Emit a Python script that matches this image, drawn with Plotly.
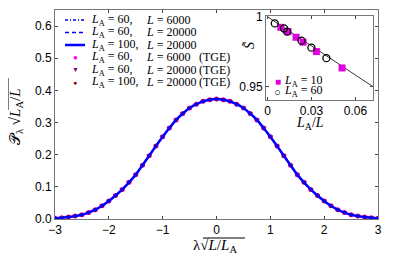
import plotly.graph_objects as go

# main curve
lam = [-3.0, -2.875, -2.75, -2.625, -2.5, -2.375, -2.25, -2.125, -2.0, -1.875, -1.75, -1.625,
       -1.5, -1.375, -1.25, -1.125, -1.0, -0.875, -0.75, -0.625, -0.5, -0.375, -0.25, -0.125,
       0.0, 0.125, 0.25, 0.375, 0.5, 0.625, 0.75, 0.875, 1.0, 1.125, 1.25, 1.375, 1.5, 1.625,
       1.75, 1.875, 2.0, 2.125, 2.25, 2.375, 2.5, 2.625, 2.75, 2.875, 3.0]
P = [0.002, 0.004, 0.006, 0.009, 0.013, 0.020, 0.029, 0.041, 0.056, 0.073, 0.092, 0.114,
     0.138, 0.167, 0.197, 0.227, 0.256, 0.283, 0.308, 0.328, 0.345, 0.357, 0.366, 0.371,
     0.373, 0.371, 0.366, 0.357, 0.345, 0.328, 0.308, 0.283, 0.256, 0.227, 0.197, 0.167,
     0.138, 0.114, 0.092, 0.073, 0.056, 0.041, 0.029, 0.020, 0.013, 0.009, 0.006, 0.004, 0.002]

# inset data
x_LA10 = [0.0091, 0.0140, 0.0195, 0.0243, 0.0334, 0.0509]
S_LA10 = [0.9924, 0.9893, 0.9853, 0.9818, 0.9751, 0.9634]
x_LA60 = [0.0050, 0.0113, 0.0134, 0.0232, 0.0300, 0.0402]
S_LA60 = [0.9952, 0.9916, 0.9893, 0.9829, 0.9779, 0.9704]
fit_x = [0.0, 0.072]
fit_S = [1.0, 0.95]

legend_LA = ["60,", "60,", "100,", "60,", "60,", "100,"]
legend_L = ["6000", "20000", "20000", "6000", "20000", "20000"]
legend_tge = ["", "", "", "(TGE)", "(TGE)", "(TGE)"]

serif = "Liberation Serif"
sans = "Liberation Sans"

# the page puts the figure 8px from the top-left corner
OFF = 8
W, H = 395 - OFF, 257 - OFF
ML, MR, MT, MB = 55 - OFF, 17, 10 - OFF, 38
PW, PH = W - ML - MR, H - MT - MB

def px(x):  # page pixel -> paper
    return (x - OFF - ML) / PW

def py(y):
    return (H - MB - (y - OFF)) / PH

fig = go.Figure()
# markers
mk = [dict(symbol="circle", size=5, color="#ff00ff"),
      dict(symbol="triangle-down", size=5, color="#800080"),
      dict(symbol="circle", size=4, color="#a00000")]
for m in mk:
    fig.add_trace(go.Scatter(x=lam, y=P, mode="markers", marker=m, showlegend=False))
# lines
ln = [dict(color="blue", width=1.5, dash="3px,2px,1px,2px"),
      dict(color="blue", width=1.5, dash="4px,3px"),
      dict(color="blue", width=2.5)]
for l in ln:
    fig.add_trace(go.Scatter(x=lam, y=P, mode="lines", line_shape="spline", line=l, showlegend=False))

# inset
fig.add_trace(go.Scatter(x=fit_x, y=fit_S, mode="lines", xaxis="x2", yaxis="y2",
                         line=dict(color="black", width=0.8), showlegend=False))
fig.add_trace(go.Scatter(x=x_LA10, y=S_LA10, mode="markers", xaxis="x2", yaxis="y2",
                         marker=dict(symbol="square", size=7, color="#e000e0"), showlegend=False))
fig.add_trace(go.Scatter(x=x_LA60, y=S_LA60, mode="markers", xaxis="x2", yaxis="y2",
                         marker=dict(symbol="circle-open", size=7, color="black", line=dict(width=1.3)),
                         showlegend=False))

axcol = "#777"
tf = dict(family=sans, size=12, color="black")
common = dict(ticks="inside", ticklen=3, showline=True, linecolor=axcol, mirror="ticks",
              showgrid=False, zeroline=False, tickfont=tf, automargin=False)
fig.update_layout(
    width=W, height=H,
    margin=dict(l=ML, r=MR, t=MT, b=MB),
    plot_bgcolor="white", paper_bgcolor="white",
    showlegend=False,
    xaxis=dict(range=[-3, 3], tickvals=[-3, -2, -1, 0, 1, 2, 3],
               ticktext=["−3", "−2", "−1", "0", "1", "2", "3"], **common),
    yaxis=dict(range=[0, 0.65], tickvals=[0, 0.1, 0.2, 0.3, 0.4, 0.5, 0.6],
               ticktext=["0.0", "0.1", "0.2", "0.3", "0.4", "0.5", "0.6"], **common),
    xaxis2=dict(domain=[px(266), px(373)], anchor="y2", range=[-0.001, 0.072],
                tickvals=[0, 0.03, 0.06], ticktext=["0", "0.03", "0.06"], **common),
    yaxis2=dict(domain=[py(100), py(16)], anchor="x2", range=[0.9405, 1.0005],
                tickvals=[0.95, 1.0], ticktext=["0.95", "1"], **common),
)

shapes = []
ann = []
lf = dict(family=serif, size=12, color="black")
rows = [20, 32.5, 45, 57, 69.5, 82]
# legend line samples
for i in range(3):
    shapes.append(dict(type="line", xref="paper", yref="paper", x0=px(65), x1=px(85),
                       y0=py(rows[i]), y1=py(rows[i]), line=ln[i]))
glyphs = [("●", "#ff00ff", 8), ("▼", "#800080", 7), ("●", "#a00000", 7)]
for i in range(3):
    g, c, s = glyphs[i]
    ann.append(dict(xref="paper", yref="paper", x=px(75), y=py(rows[3 + i]), text=g, showarrow=False,
                    font=dict(color=c, size=s), xanchor="center", yanchor="middle"))
for i in range(6):
    y = py(rows[i])
    ann.append(dict(xref="paper", yref="paper", x=px(89), y=y, text=f"<i>L</i><sub>A</sub> = {legend_LA[i]}",
                    showarrow=False, font=lf, xanchor="left", yanchor="middle"))
    ann.append(dict(xref="paper", yref="paper", x=px(144), y=y, text=f"<i>L</i> = {legend_L[i]}",
                    showarrow=False, font=lf, xanchor="left", yanchor="middle"))
    if legend_tge[i]:
        ann.append(dict(xref="paper", yref="paper", x=px(197), y=y, text=legend_tge[i],
                        showarrow=False, font=lf, xanchor="left", yanchor="middle"))

# axis titles
ann.append(dict(xref="paper", yref="paper", x=px(215), y=py(246), text="λ√<i>L</i>/<i>L</i><sub>A</sub>",
                showarrow=False, font=dict(family=serif, size=15, color="black"),
                xanchor="center", yanchor="middle"))
ann.append(dict(xref="paper", yref="paper", x=px(16), y=py(117), text="𝒫<sub>λ</sub> √<i>L</i><sub>A</sub>/<i>L</i>",
                showarrow=False, font=dict(family=serif, size=15, color="black"), textangle=-90,
                xanchor="center", yanchor="middle"))
ann.append(dict(xref="paper", yref="paper", x=px(310), y=py(124), text="<i>L</i><sub>A</sub>/<i>L</i>",
                showarrow=False, font=dict(family=serif, size=14, color="black"),
                xanchor="center", yanchor="middle"))
ann.append(dict(xref="paper", yref="paper", x=px(249), y=py(45), text="<i>S\u0303</i>",
                showarrow=False, font=dict(family=serif, size=14, color="black"), textangle=-90,
                xanchor="center", yanchor="middle"))
# sqrt overlines
shapes.append(dict(type="line", xref="paper", yref="paper", x0=px(203), x1=px(245),
                   y0=py(238), y1=py(238), line=dict(color="black", width=1)))
shapes.append(dict(type="line", xref="paper", yref="paper", x0=px(8), x1=px(8),
                   y0=py(110), y1=py(78), line=dict(color="black", width=1)))
# inset legend
ann.append(dict(xref="paper", yref="paper", x=px(277.5), y=py(81), text="■", showarrow=False,
                font=dict(color="#e000e0", size=10), xanchor="center", yanchor="middle"))
ann.append(dict(xref="paper", yref="paper", x=px(277.5), y=py(91), text="○", showarrow=False,
                font=dict(color="black", size=11), xanchor="center", yanchor="middle"))
ann.append(dict(xref="paper", yref="paper", x=px(282), y=py(81), text="<i>L</i><sub>A</sub> = 10",
                showarrow=False, font=dict(family=serif, size=12, color="black"), xanchor="left", yanchor="middle"))
ann.append(dict(xref="paper", yref="paper", x=px(282), y=py(91), text="<i>L</i><sub>A</sub> = 60",
                showarrow=False, font=dict(family=serif, size=12, color="black"), xanchor="left", yanchor="middle"))

fig.update_layout(shapes=shapes, annotations=ann)
fig.write_html("out.html")
